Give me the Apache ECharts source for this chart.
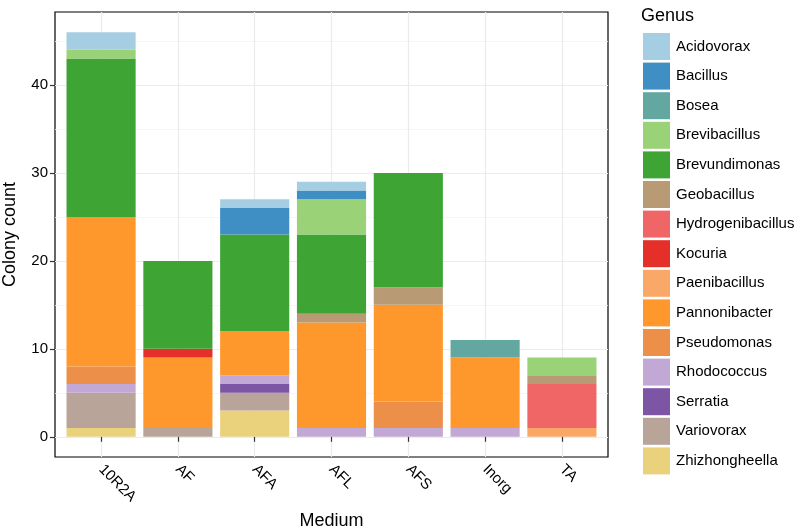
<!DOCTYPE html>
<html>
<head>
<meta charset="utf-8">
<script src="https://cdn.jsdelivr.net/npm/echarts@6/dist/echarts.min.js"></script>
<style>html,body{margin:0;padding:0;background:#fff}#c{width:800px;height:531px}</style>
</head>
<body>
<div id="c"></div>
<script>
const categories = ['10R2A', 'AF', 'AFA', 'AFL', 'AFS', 'Inorg', 'TA'];
const genera = ['Acidovorax', 'Bacillus', 'Bosea', 'Brevibacillus', 'Brevundimonas', 'Geobacillus',
  'Hydrogenibacillus', 'Kocuria', 'Paenibacillus', 'Pannonibacter', 'Pseudomonas', 'Rhodococcus',
  'Serratia', 'Variovorax', 'Zhizhongheella'];
const colors = ['#A6CEE3', '#3F8FC4', '#62A8A0', '#9AD277', '#3EA535', '#B89A74',
  '#F06667', '#E52F29', '#F9A867', '#FE982D', '#EC8F49', '#C2A8D4',
  '#7D55A5', '#B8A498', '#EAD27C'];
// counts per medium, order: 10R2A, AF, AFA, AFL, AFS, Inorg, TA
const Acidovorax        = [2, 0, 1, 1, 0, 0, 0];
const Bacillus          = [0, 0, 3, 1, 0, 0, 0];
const Bosea             = [0, 0, 0, 0, 0, 2, 0];
const Brevibacillus     = [1, 0, 0, 4, 0, 0, 2];
const Brevundimonas     = [18, 10, 11, 9, 13, 0, 0];
const Geobacillus       = [0, 0, 0, 1, 2, 0, 1];
const Hydrogenibacillus = [0, 0, 0, 0, 0, 0, 5];
const Kocuria           = [0, 1, 0, 0, 0, 0, 0];
const Paenibacillus     = [0, 0, 0, 0, 0, 0, 1];
const Pannonibacter     = [17, 8, 5, 12, 11, 8, 0];
const Pseudomonas       = [2, 0, 0, 0, 3, 0, 0];
const Rhodococcus       = [1, 0, 1, 1, 1, 1, 0];
const Serratia          = [0, 0, 1, 0, 0, 0, 0];
const Variovorax        = [4, 1, 2, 0, 0, 0, 0];
const Zhizhongheella    = [1, 0, 3, 0, 0, 0, 0];
const values = {Acidovorax, Bacillus, Bosea, Brevibacillus, Brevundimonas, Geobacillus,
  Hydrogenibacillus, Kocuria, Paenibacillus, Pannonibacter, Pseudomonas, Rhodococcus,
  Serratia, Variovorax, Zhizhongheella};
const yTicks = [0, 10, 20, 30, 40];
const yMinor = [5, 15, 25, 35, 45];

const catPos = categories.map((c, i) => i + 1);
const font = 'Liberation Sans, Arial, sans-serif';
const yMin = -2.3, yMax = 48.3;

// panel geometry
const P = {left: 55, right: 608, top: 12, bottom: 457};
const unit = (P.right - P.left) / 7.2;   // ggplot discrete expansion 0.6 each side
const inset = unit * 0.1;

// stacking: last genus (Zhizhongheella) at the bottom, first (Acidovorax) on top
const series = genera.slice().reverse().map(g => ({
  name: g,
  type: 'bar',
  stack: 'total',
  xAxisIndex: 1,
  yAxisIndex: 2,
  barWidth: '90%',
  itemStyle: {color: colors[genera.indexOf(g)]},
  emphasis: {disabled: true},
  data: values[g]
}));

const chart = echarts.init(document.getElementById('c'), null, {renderer: 'canvas'});
chart.setOption({
  animation: false,
  backgroundColor: '#fff',
  color: colors,
  title: {
    text: 'Genus', left: 636, top: 2,
    textStyle: {fontFamily: font, fontSize: 18, fontWeight: 'normal', color: '#000'}
  },
  legend: {
    orient: 'vertical', left: 638, top: 28,
    itemWidth: 27, itemHeight: 27, itemGap: 2.6,
    icon: 'rect',
    data: genera,
    selectedMode: false,
    textStyle: {fontFamily: font, fontSize: 15, color: '#000', padding: [0, 0, 0, 1]}
  },
  grid: [
    {left: P.left, right: 800 - P.right, top: P.top, bottom: 531 - P.bottom,
      containLabel: false, outerBoundsMode: 'none',
      show: true, borderColor: '#000', borderWidth: 1.2, backgroundColor: 'transparent'},
    {left: P.left + inset, right: 800 - P.right + inset, top: P.top, bottom: 531 - P.bottom,
      containLabel: false, outerBoundsMode: 'none'}
  ],
  xAxis: [{
    gridIndex: 0, type: 'value', min: 0.4, max: 7.6,
    name: 'Medium', nameLocation: 'middle', nameGap: 53,
    nameTextStyle: {fontFamily: font, fontSize: 18, color: '#000'},
    axisLine: {show: false},
    axisTick: {show: true, length: 5, customValues: catPos, lineStyle: {color: '#333', width: 1.2}},
    axisLabel: {customValues: catPos, rotate: -45, margin: 10,
      formatter: v => categories[Math.round(v) - 1] || '',
      fontFamily: font, fontSize: 15, color: '#000'},
    splitLine: {show: true, lineStyle: {color: '#EBEBEB', width: 1.2}}
  }, {
    gridIndex: 1, type: 'category', data: categories, boundaryGap: true,
    axisLine: {show: false}, axisTick: {show: false}, axisLabel: {show: false},
    splitLine: {show: false}
  }],
  yAxis: [{
    gridIndex: 0, type: 'value', min: yMin, max: yMax,
    name: 'Colony count', nameLocation: 'middle', nameGap: 36, nameRotate: 90,
    nameTextStyle: {fontFamily: font, fontSize: 18, color: '#000'},
    axisLine: {show: false},
    axisTick: {show: true, length: 5, customValues: yTicks, lineStyle: {color: '#333', width: 1.2}},
    axisLabel: {customValues: yTicks, margin: 7, fontFamily: font, fontSize: 15, color: '#000'},
    splitLine: {show: true, lineStyle: {color: '#EBEBEB', width: 1.2}}
  }, {
    gridIndex: 0, type: 'value', min: yMin, max: yMax, position: 'left',
    axisLine: {show: false},
    axisTick: {show: false, customValues: yMinor},
    axisLabel: {show: false},
    splitLine: {show: true, lineStyle: {color: '#F2F2F2', width: 0.8}}
  }, {
    gridIndex: 1, type: 'value', min: yMin, max: yMax,
    axisLine: {show: false}, axisTick: {show: false}, axisLabel: {show: false},
    splitLine: {show: false}
  }],
  series: series
});
</script>
</body>
</html>
